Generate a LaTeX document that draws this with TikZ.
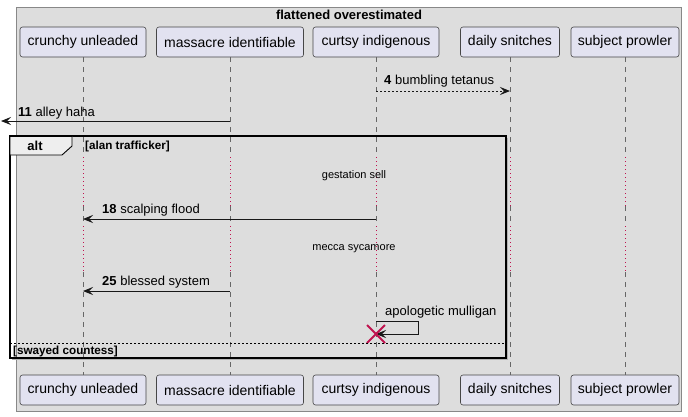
\documentclass[tikz,border=0pt]{standalone}
\usepackage{fontspec}
\setmainfont{Liberation Sans}
\usetikzlibrary{arrows.meta}
\definecolor{boxbg}{HTML}{DDDDDD}
\definecolor{boxline}{HTML}{888888}
\definecolor{partfill}{HTML}{E2E2F0}
\definecolor{ink}{HTML}{181818}
\definecolor{lifec}{HTML}{666666}
\definecolor{delayc}{HTML}{C0134F}
\definecolor{tabfill}{HTML}{EEEEEE}
\tikzset{
  part/.style={draw=ink!80, line width=0.6pt, fill=partfill, rounded corners=2.5pt,
    minimum height=30pt, inner sep=0pt, font=\fontsize{14}{16}\selectfont},
  life/.style={draw=lifec, line width=0.8pt, dash pattern=on 5pt off 5pt},
  delayline/.style={draw=delayc, line width=1pt, dash pattern=on 1pt off 3pt},
  msg/.style={draw=ink, line width=0.9pt, -{Stealth[length=10pt,width=8pt,inset=4pt]}},
  msglabel/.style={anchor=base west, inner sep=0pt, font=\fontsize{13}{15}\selectfont},
  delaytext/.style={inner sep=0pt, font=\fontsize{11}{13}\selectfont},
  guard/.style={anchor=west, inner sep=0pt, font=\fontsize{11.7}{13}\selectfont\bfseries},
}
\begin{document}
\begin{tikzpicture}[x=1pt,y=-1pt]
\useasboundingbox (0,0) rectangle (688,416);
% outer box
\draw[boxline, line width=0.8pt, fill=boxbg] (16,7) rectangle (681,411);
\node[font=\fontsize{13}{15}\selectfont\bfseries, inner sep=0pt] (title) at (349,14.5) {flattened overestimated};
% participants
\node[part, minimum width=126pt] (p1t) at (83,42) {crunchy unleaded};
\node[part, minimum width=147pt] (p2t) at (230,42) {massacre identifiable};
\node[part, minimum width=126pt] (p3t) at (376,42) {curtsy indigenous};
\node[part, minimum width=99pt]  (p4t) at (510,42) {daily snitches};
\node[part, minimum width=108pt] (p5t) at (625,42) {subject prowler};
\node[part, minimum width=126pt] (p1b) at (83,390) {crunchy unleaded};
\node[part, minimum width=147pt] (p2b) at (230,390) {massacre identifiable};
\node[part, minimum width=126pt] (p3b) at (376,390) {curtsy indigenous};
\node[part, minimum width=99pt]  (p4b) at (510,390) {daily snitches};
\node[part, minimum width=108pt] (p5b) at (625,390) {subject prowler};
% lifelines
\foreach \t/\b/\x in {p1t/p1b/83,p2t/p2b/230,p3t/p3b/376,p4t/p4b/510,p5t/p5b/625}{
  \draw[life] (\t.south) -- (\x,156);
  \draw[delayline] (\x,157) -- (\x,206);
  \draw[life] (\x,206) -- (\x,225);
  \draw[delayline] (\x,226) -- (\x,272);
  \draw[life] (\x,272) -- (\b.north);
}
% message 4
\coordinate (m4a) at (376,91);
\coordinate (m4b) at (510,91);
\draw[msg, dash pattern=on 2pt off 2pt] (m4a) -- (m4b);
\node[msglabel] (l4) at (384,84.5) {\textbf{4} bumbling tetanus};
% message 11 (lost to the left)
\coordinate (m11a) at (230,121);
\coordinate (m11b) at (1,121);
\draw[msg] (m11a) -- (m11b);
\node[msglabel] (l11) at (18,116.5) {\textbf{11} alley haha};
% alt frame (shadow, then frame)
\draw[gray!60, line width=1.5pt] (507.5,137.5) -- (507.5,359.5) -- (11.5,359.5);
\draw[black, line width=1.5pt] (10,136) rectangle (506,358);
\draw[black, line width=0.9pt, fill=tabfill] (10,136) -- (72,136) -- (72,146) -- (62,155) -- (10,155) -- cycle;
\draw[black, line width=1.5pt] (10,136) -- (72,136);
\node[font=\fontsize{13}{15}\selectfont\bfseries, inner sep=0pt] (alt) at (35,145.5) {alt};
\node[guard] (g1) at (85,146) {[alan trafficker]};
% delay 1
\node[delaytext] (d1) at (354,176) {gestation sell};
% message 18
\coordinate (m18a) at (376,219);
\coordinate (m18b) at (83,219);
\draw[msg] (m18a) -- (m18b);
\node[msglabel] (l18) at (102,213.5) {\textbf{18} scalping flood};
% delay 2
\node[delaytext] (d2) at (354,249) {mecca sycamore};
% message 25
\coordinate (m25a) at (230,291);
\coordinate (m25b) at (83,291);
\draw[msg] (m25a) -- (m25b);
\node[msglabel] (l25) at (102,285.5) {\textbf{25} blessed system};
% self message
\coordinate (sa) at (376,321);
\coordinate (sb) at (376,334);
\draw[msg] (sa) -- (418,321) -- (418,334) -- (sb);
\node[msglabel] (ls) at (385,315.5) {apologetic mulligan};
% destroy
\draw[delayc, line width=2pt] (367,325) -- (385,343) (367,343) -- (385,325);
% else
\draw[black, line width=0.8pt, dash pattern=on 2pt off 2pt] (10,343) -- (506,343);
\node[guard] (g2) at (13,351) {[swayed countess]};
\end{tikzpicture}
\end{document}
